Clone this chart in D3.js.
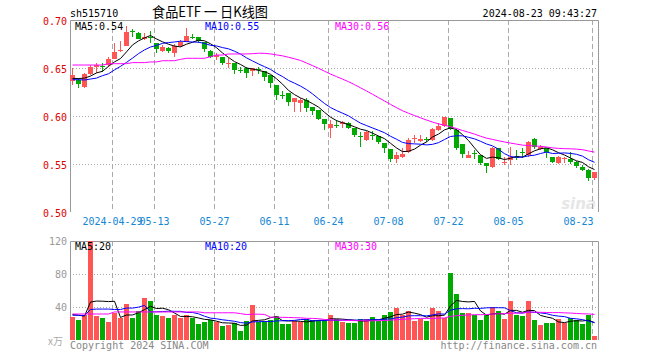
<!DOCTYPE html>
<html><head><meta charset="utf-8">
<script src="https://cdn.jsdelivr.net/npm/d3@7"></script>
<style>
html,body{margin:0;padding:0;background:#fff;}
svg{display:block;}
text{font-family:"DejaVu Sans Mono","Liberation Mono",monospace;font-size:10px;}
</style>
</head><body>
<svg id="c" width="660" height="360"></svg>
<script>
// ---------- DATA ----------
const dates = ["04-18","04-19","04-22","04-23","04-24","04-25","04-26","04-29","04-30","05-06",
"05-07","05-08","05-09","05-10","05-13","05-14","05-15","05-16","05-17","05-20",
"05-21","05-22","05-23","05-24","05-27","05-28","05-29","05-30","05-31","06-03",
"06-04","06-05","06-06","06-07","06-11","06-12","06-13","06-14","06-17","06-18",
"06-19","06-20","06-21","06-24","06-25","06-26","06-27","06-28","07-01","07-02",
"07-03","07-04","07-05","07-08","07-09","07-10","07-11","07-12","07-15","07-16",
"07-17","07-18","07-19","07-22","07-23","07-24","07-25","07-26","07-29","07-30",
"07-31","08-01","08-02","08-05","08-06","08-07","08-08","08-09","08-12","08-13",
"08-14","08-15","08-16","08-19","08-20","08-21","08-22","08-23"];

const open = [0.6368,0.6375,0.6306,0.6434,0.6514,0.6516,0.6528,0.6590,0.6686,0.6733,
0.6885,0.6868,0.6802,0.6822,0.6757,0.6677,0.6705,0.6660,0.6729,0.6774,
0.6828,0.6826,0.6774,0.6681,0.6618,0.6618,0.6547,0.6549,0.6475,0.6497,
0.6469,0.6490,0.6469,0.6427,0.6323,0.6222,0.6243,0.6142,0.6139,0.6167,
0.6097,0.6063,0.5969,0.5872,0.5910,0.5913,0.5931,0.5879,0.5795,0.5747,
0.5806,0.5795,0.5722,0.5656,0.5552,0.5576,0.5622,0.5761,0.5740,0.5762,
0.5750,0.5854,0.5899,0.5976,0.5854,0.5705,0.5566,0.5613,0.5594,0.5507,
0.5472,0.5670,0.5521,0.5542,0.5578,0.5630,0.5594,0.5760,0.5653,0.5663,
0.5576,0.5507,0.5556,0.5549,0.5517,0.5472,0.5438,0.5358];

const high = [0.6497,0.6392,0.6444,0.6531,0.6549,0.6549,0.6611,0.6764,0.6785,0.6938,
0.6903,0.6878,0.6868,0.6885,0.6757,0.6740,0.6722,0.6750,0.6792,0.6913,
0.6854,0.6826,0.6774,0.6688,0.6653,0.6618,0.6601,0.6549,0.6514,0.6514,
0.6503,0.6514,0.6469,0.6427,0.6323,0.6260,0.6243,0.6191,0.6184,0.6191,
0.6097,0.6063,0.5969,0.5958,0.5958,0.5948,0.5941,0.5879,0.5837,0.5844,
0.5844,0.5795,0.5722,0.5656,0.5628,0.5670,0.5767,0.5802,0.5802,0.5785,
0.5879,0.5924,0.5993,0.5983,0.5865,0.5705,0.5635,0.5646,0.5594,0.5507,
0.5681,0.5670,0.5576,0.5681,0.5646,0.5663,0.5740,0.5767,0.5698,0.5663,
0.5576,0.5587,0.5576,0.5628,0.5531,0.5490,0.5444,0.5420];

const low = [0.6323,0.6295,0.6295,0.6427,0.6451,0.6462,0.6514,0.6590,0.6670,0.6733,
0.6826,0.6802,0.6792,0.6757,0.6653,0.6670,0.6653,0.6618,0.6722,0.6774,
0.6799,0.6757,0.6670,0.6601,0.6583,0.6531,0.6497,0.6438,0.6444,0.6392,
0.6420,0.6434,0.6365,0.6288,0.6167,0.6177,0.6108,0.6045,0.6045,0.6045,
0.6010,0.5958,0.5854,0.5774,0.5879,0.5872,0.5865,0.5785,0.5681,0.5740,
0.5750,0.5705,0.5611,0.5524,0.5507,0.5559,0.5611,0.5715,0.5733,0.5733,
0.5740,0.5844,0.5889,0.5854,0.5646,0.5566,0.5559,0.5552,0.5490,0.5403,
0.5462,0.5542,0.5490,0.5490,0.5542,0.5559,0.5576,0.5656,0.5646,0.5559,
0.5507,0.5497,0.5507,0.5497,0.5455,0.5427,0.5323,0.5333];

const close = [0.6427,0.6333,0.6438,0.6514,0.6531,0.6512,0.6590,0.6670,0.6690,0.6878,
0.6872,0.6802,0.6826,0.6816,0.6698,0.6722,0.6677,0.6729,0.6774,0.6837,
0.6824,0.6785,0.6698,0.6618,0.6635,0.6549,0.6551,0.6479,0.6472,0.6451,
0.6497,0.6476,0.6410,0.6340,0.6219,0.6215,0.6149,0.6191,0.6167,0.6087,
0.6052,0.5969,0.5917,0.5917,0.5906,0.5941,0.5872,0.5802,0.5792,0.5837,
0.5802,0.5726,0.5663,0.5552,0.5594,0.5608,0.5747,0.5774,0.5760,0.5760,
0.5865,0.5899,0.5993,0.5865,0.5670,0.5601,0.5594,0.5611,0.5507,0.5479,
0.5670,0.5552,0.5524,0.5576,0.5576,0.5628,0.5726,0.5681,0.5681,0.5628,
0.5524,0.5576,0.5559,0.5524,0.5483,0.5438,0.5351,0.5413];

// volume (万)
const volume = [27.5,24.2,30.3,125,29,26.7,21.8,32.3,27,43.6,
27,35.6,50.9,47.3,29.9,29,26.7,30.3,27,29.9,
27,19.4,21.8,24.2,21.8,17,18.2,20.2,11.3,23.4,
42.4,21.8,23.4,24.2,29,19.4,19.4,23.4,21.8,25.5,
24.2,24.2,24.2,30.3,25.5,22.2,21,21,25.5,25.5,
27.9,22.6,30.3,34.3,39.2,30.3,35.6,23.4,25.5,23.4,
39.2,35.6,27,81.6,56.1,33.1,33.1,29.9,24.2,30.3,
40.4,35.6,25.9,47.3,30.3,29,47.3,24.2,18.2,21,
21,25.1,20.2,26.3,24.2,19.4,30.3,4.8];

// moving-average values before enough days are on screen
const ma5Lead = [0.6392,0.6390,0.6395,0.6416];
const ma10Lead = [0.6378,0.6378,0.6375,0.6385,0.6395,0.6420,0.6440,0.6480,0.6517];
const ma30Lead = [0.6531,0.6531,0.6531,0.6531,0.6531,0.6531,0.6545,0.6545,0.6545,0.6545,
0.6556,0.6556,0.6556,0.6563,0.6563,0.6576,0.6576,0.6576,0.6590,0.6601,
0.6601,0.6601,0.6601,0.6618,0.6635,0.6635,0.6646,0.6646,0.6646];
const vma5Lead = [31,30,29,46];
const vma10Lead = [30,30,29.5,37,37.5,37.5,37.5,37,37];
const vma30Lead = [31.5,31.5,31.5,31.5,31.5,31.5,31.5,34,34,34,
34,34,34,34,34,34,34,34,34,34,
34,34,33,33,33,33,33,33,32];

const priceTicks = [0.70,0.65,0.60,0.55,0.50];
const volTicks = [120,80,40];
const xTickDates = ["04-29","05-13","05-27","06-11","06-24","07-08","07-22","08-05","08-23"];
const xTickLabels = ["2024-04-29","05-13","05-27","06-11","06-24","07-08","07-22","08-05","08-23"];
const priceLegend = ["MA5:0.54","MA10:0.55","MA30:0.56"];
const volLegend = ["MA5:20","MA10:20","MA30:30"];
const maColors = ["#000000","#0000ff","#ff00ff"];
const titleCode = "sh515710";
const titleName = "食品ETF 一 日K线图";
const stamp = "2024-08-23 09:43:27";

// ---------- CHART ----------
const svg = d3.select("#c");
const RED = "#ff5555", GREEN = "#00aa00";
const L = 70, R = 598, PT = 20, PB = 212, VT = 241, VB = 340;

const x = d3.scaleBand().domain(dates).range([69, 597]).padding(0);
const cx = d => Math.round(x(d) + x.bandwidth() / 2);
const yP = d3.scaleLinear().domain([0.5, 0.7]).range([PB, PT]);
const yV = d3.scaleLinear().domain([0, 120]).range([VB, VT]);

function ma(arr, n, lead) {
  return arr.map((_, i) => i < lead.length ? lead[i] : d3.mean(arr.slice(i - n + 1, i + 1)));
}
const pMA = [ma(close, 5, ma5Lead), ma(close, 10, ma10Lead), ma(close, 30, ma30Lead)];
const vMA = [ma(volume, 5, vma5Lead), ma(volume, 10, vma10Lead), ma(volume, 30, vma30Lead)];

// header
svg.append("text").attr("x", 70).attr("y", 17).attr("fill", "#000").text(titleCode);
svg.append("text").attr("x", 152).attr("y", 17).attr("fill", "#000")
  .style("font-family", "'Noto Sans CJK SC',sans-serif").style("font-size", "14px")
  .attr("textLength", 116).attr("lengthAdjust", "spacingAndGlyphs").text(titleName);
svg.append("text").attr("x", 597).attr("y", 17).attr("text-anchor", "end").attr("fill", "#000").text(stamp);

// clip paths
const defs = svg.append("defs");
defs.append("clipPath").attr("id", "cp").append("rect").attr("x", L).attr("y", PT).attr("width", R - L).attr("height", PB - PT);
defs.append("clipPath").attr("id", "cv").append("rect").attr("x", L).attr("y", VT).attr("width", R - L).attr("height", VB - VT);

// watermark
svg.append("text").attr("x", 596).attr("y", 209).attr("text-anchor", "end")
  .style("font-family", "'DejaVu Sans',sans-serif").style("font-size", "15px").style("font-style", "italic").style("font-weight", "bold")
  .attr("fill", "#e6e6e6").text("sina");

// grids
function grids(top, bottom, yScale, hTicks) {
  const g = svg.append("g");
  g.selectAll(".h").data(hTicks).join("line")
    .attr("x1", L).attr("x2", R)
    .attr("y1", d => Math.round(yScale(d)) + 0.5).attr("y2", d => Math.round(yScale(d)) + 0.5)
    .attr("stroke", "#aaa").attr("stroke-dasharray", "1,2");
  g.selectAll(".v").data(xTickDates).join("line")
    .attr("x1", d => cx(d) - 1.5).attr("x2", d => cx(d) - 1.5)
    .attr("y1", top).attr("y2", bottom)
    .attr("stroke", "#aaa").attr("stroke-dasharray", "5,3");
}
grids(PT, PB, yP, [0.65, 0.60, 0.55]);
grids(VT, VB, yV, [80, 40]);

// frames
svg.append("path").attr("d", `M${L + 0.5},${PB}V${PT + 0.5}H${R + 0.5}V${PB}`).attr("fill", "none").attr("stroke", "#999");
svg.append("path").attr("d", `M${L + 0.5},${VB}V${VT + 0.5}H${R + 0.5}V${VB}`).attr("fill", "none").attr("stroke", "#999");

// price axis
const ay = svg.append("g").attr("transform", `translate(${L - 3},0)`)
  .call(d3.axisLeft(yP).tickValues(priceTicks).tickSize(0).tickPadding(0).tickFormat(d3.format(".2f")));
ay.select(".domain").remove();
ay.selectAll("text").attr("fill", "#e00000").attr("dy", "0.45em").style("font-size", "10px").style("font-family", "'DejaVu Sans Mono',monospace");

// volume axis
const av = svg.append("g").attr("transform", `translate(${L - 3},0)`)
  .call(d3.axisLeft(yV).tickValues(volTicks).tickSize(0).tickPadding(0));
av.select(".domain").remove();
av.selectAll("text").attr("fill", "#999").attr("dy", "0.35em").style("font-size", "10px").style("font-family", "'DejaVu Sans Mono',monospace");
svg.append("text").attr("x", 63).attr("y", 345).attr("text-anchor", "end").attr("fill", "#aaa")
  .style("font-family", "'Noto Sans CJK SC',sans-serif").style("font-size", "10px").text("x万");

// x axis
const ax = svg.append("g").attr("transform", `translate(0,${PB})`)
  .call(d3.axisBottom(x).tickValues(xTickDates).tickSize(0).tickPadding(0)
    .tickFormat((d, i) => xTickLabels[i]));
ax.select(".domain").remove();
ax.selectAll(".tick").attr("transform", d => `translate(${cx(d) - 1.5},0)`);
ax.selectAll("text").attr("fill", "#1386d6").attr("dy", "13px").style("font-size", "10px").style("font-family", "'DejaVu Sans Mono',monospace")
  .attr("text-anchor", (d, i) => i === xTickDates.length - 1 ? "end" : "middle")
  .attr("x", (d, i) => i === xTickDates.length - 1 ? 1 : 0);

// candles
const cg = svg.append("g").attr("clip-path", "url(#cp)");
const idx = d3.range(dates.length);
const col = i => close[i] >= open[i] ? RED : GREEN;
cg.selectAll(".wick").data(idx).join("rect")
  .attr("x", i => cx(dates[i])).attr("width", 1)
  .attr("y", i => Math.round(yP(high[i])))
  .attr("height", i => Math.max(1, Math.round(yP(low[i])) - Math.round(yP(high[i]))))
  .attr("fill", col);
cg.selectAll(".body").data(idx).join("rect")
  .attr("x", i => cx(dates[i]) - 2).attr("width", 5)
  .attr("y", i => Math.round(yP(Math.max(open[i], close[i]))))
  .attr("height", i => Math.max(1, Math.round(yP(Math.min(open[i], close[i]))) - Math.round(yP(Math.max(open[i], close[i])))))
  .attr("fill", col);

// price MA lines
pMA.forEach((arr, j) => {
  cg.append("path").datum(idx)
    .attr("d", d3.line().x(i => cx(dates[i]) + 0.5).y(i => yP(arr[i])))
    .attr("fill", "none").attr("stroke", maColors[j]).attr("stroke-width", 1);
});

// volume bars
const vg = svg.append("g").attr("clip-path", "url(#cv)");
vg.selectAll(".vb").data(idx).join("rect")
  .attr("x", i => cx(dates[i]) - 2).attr("width", 5)
  .attr("y", i => Math.round(yV(volume[i])))
  .attr("height", i => VB - Math.round(yV(volume[i])))
  .attr("fill", col);
vMA.forEach((arr, j) => {
  vg.append("path").datum(idx)
    .attr("d", d3.line().x(i => cx(dates[i]) + 0.5).y(i => yV(arr[i])))
    .attr("fill", "none").attr("stroke", maColors[j]).attr("stroke-width", 1);
});

// legends
const legX = [75, 205, 335];
priceLegend.forEach((t, j) => svg.append("text").attr("x", legX[j]).attr("y", 30).attr("fill", maColors[j]).text(t));
volLegend.forEach((t, j) => svg.append("text").attr("x", legX[j]).attr("y", 250).attr("fill", maColors[j]).text(t));

// footer
svg.append("text").attr("x", 70).attr("y", 349).attr("fill", "#888").text("Copyright 2024 SINA.COM");
svg.append("text").attr("x", 597).attr("y", 349).attr("text-anchor", "end").attr("fill", "#888").text("http://finance.sina.com.cn");
</script>
</body></html>
